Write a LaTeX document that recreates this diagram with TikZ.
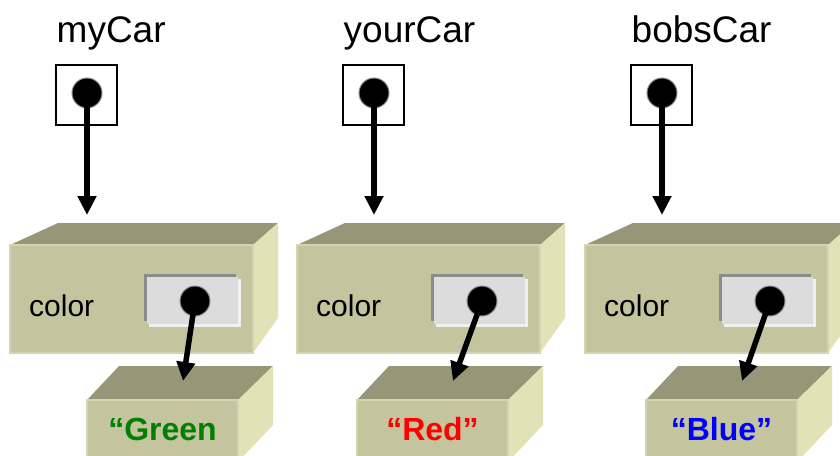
\documentclass[tikz,border=0pt]{standalone}
\usepackage{fontspec}
\setmainfont{Liberation Sans}
\usetikzlibrary{arrows.meta}
\definecolor{frontc}{RGB}{196,196,158}
\definecolor{topc}{RGB}{151,151,119}
\definecolor{sidec}{RGB}{227,226,182}
\definecolor{edgec}{RGB}{212,212,178}
\definecolor{slotc}{RGB}{220,220,220}
\definecolor{slotdark}{RGB}{140,140,140}
\definecolor{slotlight}{RGB}{240,240,240}
\definecolor{tgreen}{RGB}{0,128,0}
\definecolor{tred}{RGB}{255,0,0}
\definecolor{tblue}{RGB}{0,0,255}
\tikzset{
 frontface/.style={fill=frontc, draw=edgec, line width=1.2pt},
 topface/.style={fill=topc},
 sideface/.style={fill=sidec},
 ptrbox/.style={draw, line width=1.8pt, minimum width=61pt, minimum height=60pt, inner sep=0pt},
 refdot/.style={circle, fill=black, draw=black!45, line width=1pt, minimum size=30pt, inner sep=0pt},
 refarrow/.style={line width=5.5pt, -{Triangle[length=19pt,width=18pt]}},
 lbl/.style={font=\fontsize{37}{44}\selectfont, anchor=base west, inner sep=0pt},
 fieldlbl/.style={font=\fontsize{30}{36}\selectfont, anchor=base west, inner sep=0pt},
 valtxt/.style={font=\bfseries\fontsize{32}{38}\selectfont, anchor=base, inner sep=0pt},
}
\begin{document}
\begin{tikzpicture}[x=1pt,y=-1pt]
\useasboundingbox (0,0) rectangle (840,455);
\clip (0,0) rectangle (840,455);
\foreach \ox/\sx/\lab/\txt/\col/\i in {0/0/myCar/“Green/tgreen/a, 287/270/yourCar/“Red”/tred/b, 575/559/bobsCar/“Blue”/tblue/c}{
  % variable label and pointer box
  \node[lbl] (lbl\i) at (56.5+\ox,42) {\lab};
  \node[ptrbox] (ptr\i) at (86.5+\ox,95) {};
  \node[refdot] (pdot\i) at (87+\ox,93) {};
  \coordinate (ptip\i) at (87+\ox,215);
  % object box
  \fill[topface] (10+\ox,245) -- (58+\ox,223) -- (278+\ox,223) -- (253+\ox,245) -- cycle;
  \fill[sideface] (253+\ox,245) -- (278+\ox,223) -- (278+\ox,318) -- (253+\ox,353) -- cycle;
  \draw[frontface] (10+\ox,245) rectangle (253+\ox,353);
  \node[fieldlbl] (fld\i) at (29+\ox,316) {color};
  % field slot
  \fill[slotdark] (143.5+\ox,273.5) rectangle (236+\ox,321);
  \fill[slotlight] (149+\ox,279) rectangle (241+\ox,327);
  \fill[slotc] (146.5+\ox,276.5) rectangle (238+\ox,324);
  \node[refdot] (sdot\i) at (195+\ox,301) {};
  % value box
  \fill[topface] (87+\sx,400) -- (119+\sx,366) -- (273+\sx,366) -- (238+\sx,400) -- cycle;
  \fill[sideface] (238+\sx,400) -- (273+\sx,366) -- (273+\sx,425) -- (238+\sx,462) -- cycle;
  \draw[frontface] (87+\sx,400) rectangle (238+\sx,470);
  \node[valtxt, text=\col] (val\i) at (162.5+\sx,440) {\txt};
  \coordinate (stip\i) at (183+\sx,381);
  % references
  \draw[refarrow] (pdot\i.center) -- (ptip\i);
  \draw[refarrow] (sdot\i.center) -- (stip\i);
}
\end{tikzpicture}
\end{document}
